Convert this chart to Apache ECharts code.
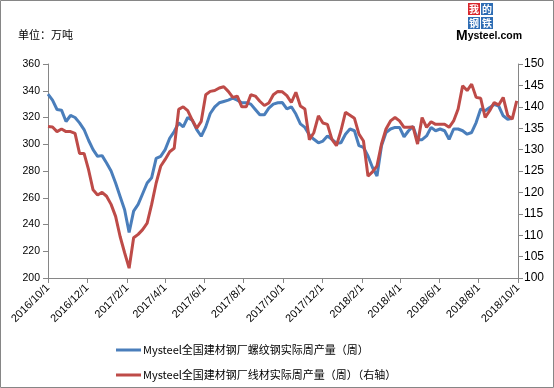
<!DOCTYPE html>
<html>
<head>
<meta charset="utf-8">
<script src="https://cdn.jsdelivr.net/npm/echarts@6/dist/echarts.min.js"></script>
<style>html,body{margin:0;padding:0;background:#fff}#c{width:554px;height:388px}</style>
</head>
<body>
<div id="c"></div>
<script>
// Weekly observations, first week 2016-10-01, 105 weeks
var startDate = [2016, 9, 1];
var weekCount = 105;
// X tick labels (every two months)
var tickDates = ['2016/10/1','2016/12/1','2017/2/1','2017/4/1','2017/6/1','2017/8/1','2017/10/1','2017/12/1','2018/2/1','2018/4/1','2018/6/1','2018/8/1','2018/10/1'];
var seriesNames = ['Mysteel全国建材钢厂螺纹钢实际周产量（周）','Mysteel全国建材钢厂线材实际周产量（周）（右轴）'];
// Rebar weekly output (left axis, 万吨)
var rebar = [337.5,333,326,325.5,317,321.5,320,316,311,303,
  296,291,291.5,286,280,271,261,251,234,250,
  255,263,271,275,289.5,291,296,304.5,309.5,316,
  313,320,318,311,306,313,323,328,331,332,
  333,334.5,333,331,331,330,326,322,322,327,
  330,331,
  331.2,326.4,328,322.6,315.2,312.6,306.9,303.7,301.1,302.4,
  306.2,303.7,300.8,301.1,307.5,311.4,310.1,298.9,297.6,291.2,
  282.6,276.2,298.9,308.8,311.4,312.6,312.6,305.6,310.1,313.3,
  303.4,303.4,306.2,312.6,310.1,311.4,310.1,303.7,311.4,311.4,
  310.1,307.5,308.8,316.2,326.4,325.1,327.4,329.9,328.6,321.3,
  318.7,319.4,null];
// Wire rod weekly output (right axis, 万吨)
var wire = [135.4,135.3,134.2,134.8,134.2,134.2,133.8,129.1,129.1,125.3,
  120.6,119.4,120,119.1,117.2,114.4,109.7,105.9,102.3,109.4,
  110.2,111.3,112.8,117.2,122.2,126.1,127.7,129.5,130.3,139.4,
  140,139.1,136.9,135,136.6,142.8,143.6,143.8,144.4,144.7,
  143.6,142.2,142.5,140,140,142.8,142.5,141.3,140.3,140.9,
  142.8,143.6,
  143.5,142.6,141,143.4,140.2,139.5,132.3,134,137.9,136.2,
  135.9,132.4,130.9,134.4,138.7,138,137.3,133.6,132,123.8,
  124.8,126.2,131.3,134.8,136.7,137.5,136.7,135.2,135.2,135.3,
  131.3,137.5,135.2,136.5,135.9,135.9,135.9,135.2,136.7,139.5,
  144.9,143.8,145.3,142.2,142,137.5,139.1,141,140.4,142.2,
  138,137.1,141.4];

function parseD(s){var p=s.split('/');return Date.UTC(+p[0],+p[1]-1,+p[2]);}
var weeks = [];
for (var i=0;i<weekCount;i++){ weeks.push(Date.UTC(startDate[0],startDate[1],startDate[2]+7*i)); }
var tickVals = tickDates.map(parseD);
function fmt(v){var d=new Date(v);return d.getUTCFullYear()+'/'+(d.getUTCMonth()+1)+'/'+d.getUTCDate();}

var axisGray = '#868686';
var chart = echarts.init(document.getElementById('c'), null, {renderer:'canvas'});
chart.setOption({
  animation:false,
  backgroundColor:'#fff',
  grid:{left:48,right:36,top:64,bottom:110,containLabel:false},
  legend:{
    orient:'vertical', left:111, top:339, itemGap:13,
    icon:'rect', itemWidth:25, itemHeight:3,
    textStyle:{fontSize:11,color:'#000',fontFamily:'Noto Sans CJK SC',lineHeight:12,padding:[0,0,0,-3]},
    data:seriesNames
  },
  xAxis:{
    type:'value', min:tickVals[0], max:tickVals[tickVals.length-1],
    axisLine:{lineStyle:{color:axisGray,width:1}},
    axisTick:{show:true,inside:false,length:5,lineStyle:{color:axisGray},customValues:tickVals},
    axisLabel:{customValues:tickVals,rotate:45,formatter:fmt,fontSize:11,color:'#000',fontFamily:'Liberation Sans',margin:8},
    splitLine:{show:false}
  },
  yAxis:[{
    type:'value', min:200, max:360, interval:20,
    axisLine:{show:true,lineStyle:{color:axisGray}},
    axisTick:{show:true,length:5,lineStyle:{color:axisGray}},
    axisLabel:{fontSize:10.5,color:'#000',fontFamily:'Liberation Sans',margin:8},
    splitLine:{show:false}
  },{
    type:'value', min:100, max:150, interval:5, position:'right',
    axisLine:{show:true,lineStyle:{color:axisGray}},
    axisTick:{show:true,length:5,lineStyle:{color:axisGray}},
    axisLabel:{fontSize:12,color:'#000',fontFamily:'Liberation Sans',margin:6},
    splitLine:{show:false}
  }],
  series:[{
    name:seriesNames[0], type:'line', yAxisIndex:0, symbol:'none',
    lineStyle:{color:'#4a7ebb',width:3}, itemStyle:{color:'#4a7ebb'},
    data:weeks.map(function(t,i){return [t,rebar[i]];})
  },{
    name:seriesNames[1], type:'line', yAxisIndex:1, symbol:'none',
    lineStyle:{color:'#be4b48',width:3}, itemStyle:{color:'#be4b48'},
    data:weeks.map(function(t,i){return [t,wire[i]];})
  }],
  graphic:[
    {type:'rect',shape:{x:0.5,y:0.5,width:553,height:387},style:{fill:'none',stroke:'#868686',lineWidth:1},silent:true},
    {type:'text',left:18,top:29,style:{text:'单位：万吨',fontSize:11,fill:'#000',fontFamily:'Noto Sans CJK SC'}},
    {type:'rect',shape:{x:468,y:3,width:12,height:12},style:{fill:'#d9262c'}},
    {type:'rect',shape:{x:481,y:3,width:12,height:12},style:{fill:'#2e6db4'}},
    {type:'rect',shape:{x:468,y:17,width:12,height:12},style:{fill:'#2e6db4'}},
    {type:'rect',shape:{x:481,y:17,width:12,height:12},style:{fill:'#2e6db4'}},
    {type:'text',x:474,y:9,style:{text:'我',fontSize:10,fill:'#fff',fontWeight:'bold',align:'center',verticalAlign:'middle',fontFamily:'Noto Sans CJK SC'}},
    {type:'text',x:487,y:9,style:{text:'的',fontSize:10,fill:'#fff',fontWeight:'bold',align:'center',verticalAlign:'middle',fontFamily:'Noto Sans CJK SC'}},
    {type:'text',x:474,y:23,style:{text:'钢',fontSize:10,fill:'#fff',fontWeight:'bold',align:'center',verticalAlign:'middle',fontFamily:'Noto Sans CJK SC'}},
    {type:'text',x:487,y:23,style:{text:'铁',fontSize:10,fill:'#fff',fontWeight:'bold',align:'center',verticalAlign:'middle',fontFamily:'Noto Sans CJK SC'}},
    {type:'text',x:489,y:36,style:{text:'{m|M}{r|ysteel.com}',align:'center',verticalAlign:'middle',
      rich:{m:{fontSize:14,fontWeight:'bold',fill:'#000',fontFamily:'Liberation Sans'},r:{fontSize:10.5,fontWeight:'bold',fill:'#000',fontFamily:'Liberation Sans'}}}}
  ]
});
</script>
</body>
</html>
